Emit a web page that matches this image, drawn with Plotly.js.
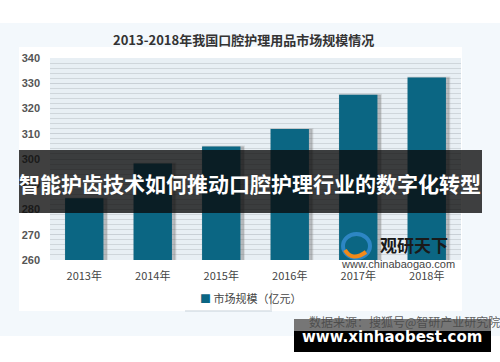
<!DOCTYPE html>
<html>
<head>
<meta charset="utf-8">
<script src="https://cdn.plot.ly/plotly-3.0.1.min.js"></script>
<style>
html,body{margin:0;padding:0;background:#ffffff;}
#chart{width:500px;height:362px;}
</style>
</head>
<body>
<div id="chart"></div>
<script>
// ---- data ----
const categories = ["2013年", "2014年", "2015年", "2016年", "2017年", "2018年"];
const marketSize = [284.5, 298.2, 305.0, 311.9, 325.4, 332.3];
const seriesName = "市场规模（亿元）";
const yTickVals = [260, 270, 280, 290, 300, 310, 320, 330, 340];
const chartTitle = "2013-2018年我国口腔护理用品市场规模情况";
const bannerText = "智能护齿技术如何推动口腔护理行业的数字化转型";
const logoText = "观研天下";
const logoUrl = "www.chinabaogao.com";
const footerText = "www.xinhaobest.com";
const sourceText = "数据来源：搜狐号@智研产业研究院";

// ---- layout geometry (pixels) ----
const W = 500, H = 362;
const L = 50, R = 39, T = 58, B = 102;
const pw = W - L - R, ph = H - T - B;
const px = x => (x - L) / pw;
const py = y => (H - B - y) / ph;
const rect = (x0, y0, x1, y1, fill, layer, line) => ({
  type: "rect", xref: "paper", yref: "paper",
  x0: px(x0), x1: px(x1), y0: py(y1), y1: py(y0),
  fillcolor: fill, line: line || {width: 0}, layer: layer || "below"
});
const CJK = "Noto Sans CJK SC, sans-serif";
const barColor = "#0b6683";

const traces = [
  { // soft drop shadow
    type: "bar", x: categories, y: marketSize,
    width: 0.6, offset: -0.27,
    marker: {color: "rgba(90,90,90,0.35)", line: {width: 2, color: "rgba(150,150,150,0.25)"}},
    showlegend: false, hoverinfo: "skip"
  },
  {
    type: "bar", name: seriesName, x: categories, y: marketSize,
    width: 0.56, offset: -0.28,
    marker: {color: barColor, line: {width: 0}},
    showlegend: false
  }
];

const shapes = [
  rect(0, 23, 500, 336, "#f3f8fc"),
  rect(19, 47, 462, 311, "#ffffff"),
  rect(50, 58, 461, 260, "#e8eff4"),
  // legend box shadow
  rect(185, 290, 272, 312, "rgba(200,210,218,0.5)"),
  rect(183, 288, 270, 310, "#ffffff"),
  // banner
  rect(19, 150, 482, 213, "rgba(10,10,10,0.78)", "above"),
  // footer
  rect(294, 319, 491, 352, "#000000", "above"),
  rect(294, 319, 491, 331, "rgba(215,215,215,0.55)", "above"),
  // logo swirl
  {type: "circle", xref: "paper", yref: "paper", x0: px(343), x1: px(370), y0: py(258), y1: py(234),
   fillcolor: "rgba(0,0,0,0)", line: {color: "#2d86c4", width: 4}, layer: "above"},
  {type: "path", xref: "paper", yref: "paper", layer: "above",
   path: "M " + px(345) + "," + py(250) + " Q " + px(352) + "," + py(262) + " " + px(366) + "," + py(252),
   line: {color: "#f28a1a", width: 4}}
];

const annotations = [
  {text: "<b>" + chartTitle + "</b>", xref: "paper", yref: "paper", x: px(243), y: py(40),
   showarrow: false, font: {family: CJK, size: 13, color: "#333333"}, xanchor: "center", yanchor: "middle"},
  {text: "<span style='color:" + barColor + "'>■</span> " + seriesName, xref: "paper", yref: "paper",
   x: px(198), y: py(298), showarrow: false, xanchor: "left", yanchor: "middle",
   font: {family: CJK, size: 11, color: "#444444"}},
  {text: "<b>" + bannerText + "</b>", xref: "paper", yref: "paper", x: px(250), y: py(183),
   showarrow: false, font: {family: CJK, size: 21, color: "#ffffff"}, xanchor: "center", yanchor: "middle"},
  {text: "<b>" + logoText + "</b>", xref: "paper", yref: "paper", x: px(414), y: py(244),
   showarrow: false, font: {family: CJK, size: 17, color: "#1a1a1a"}, xanchor: "center", yanchor: "middle"},
  {text: logoUrl, xref: "paper", yref: "paper", x: px(398), y: py(264),
   showarrow: false, font: {family: "Liberation Sans, Arial, sans-serif", size: 11, color: "#444444"}, xanchor: "center", yanchor: "middle"},
  {text: sourceText, xref: "paper", yref: "paper", x: px(404), y: py(321),
   showarrow: false, font: {family: CJK, size: 12, color: "rgba(70,70,70,0.85)"}, xanchor: "center", yanchor: "middle"},
  {text: "<b>" + footerText + "</b>", xref: "paper", yref: "paper", x: px(392), y: py(337),
   showarrow: false, font: {family: "DejaVu Sans, sans-serif", size: 15, color: "#ffffff"}, xanchor: "center", yanchor: "middle"}
];

const layout = {
  width: W, height: H,
  margin: {l: L, r: R, t: T, b: B, pad: 0},
  paper_bgcolor: "#ffffff",
  plot_bgcolor: "rgba(0,0,0,0)",
  barmode: "overlay",
  showlegend: false,
  xaxis: {
    type: "category", range: [-0.5, 5.5], fixedrange: true,
    showgrid: false, zeroline: false, showline: false, ticks: "",
    tickfont: {family: CJK, size: 11, color: "#444444"},
    ticklabelstandoff: 8
  },
  yaxis: {
    range: [260, 340], fixedrange: true,
    tickvals: yTickVals, ticktext: yTickVals.map(String),
    showgrid: true, gridcolor: "#c9d0d6", gridwidth: 1,
    minor: {dtick: 2, showgrid: true, gridcolor: "#cfd6db", gridwidth: 1},
    zeroline: false, showline: false, ticks: "",
    tickfont: {family: "Liberation Sans, Arial, sans-serif", size: 11, color: "#555555", weight: "bold"},
    ticklabelstandoff: 9
  },
  shapes: shapes,
  annotations: annotations
};

Plotly.newPlot("chart", traces, layout, {displayModeBar: false, staticPlot: true});
</script>
</body>
</html>
